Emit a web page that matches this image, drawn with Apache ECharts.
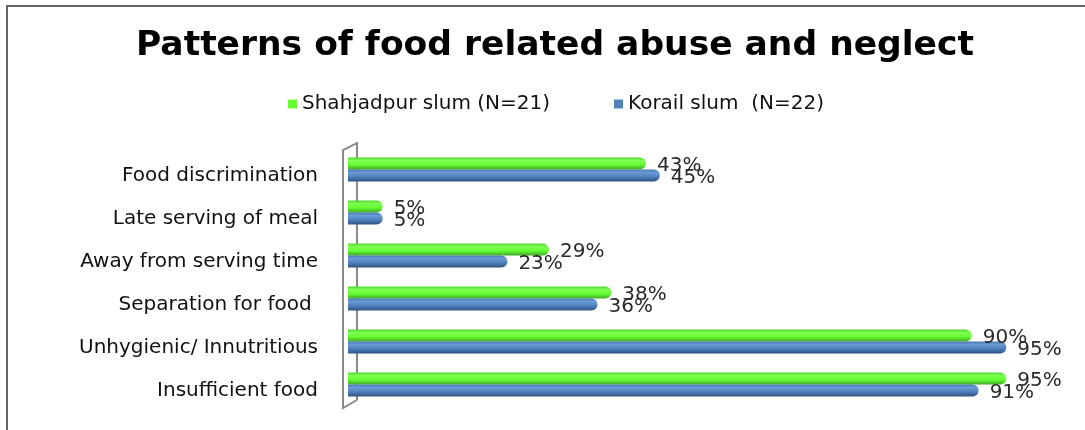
<!DOCTYPE html>
<html>
<head>
<meta charset="utf-8">
<script src="https://cdn.jsdelivr.net/npm/echarts@6/dist/echarts.min.js"></script>
<style>html,body{margin:0;padding:0;background:#fff;}#c{width:1085px;height:430px;}</style>
</head>
<body>
<div id="c"></div>
<script>
const categories = ['Food discrimination', 'Late serving of meal', 'Away from serving time', 'Separation for food ', 'Unhygienic/ Innutritious', 'Insufficient food'];
const shahjadpur = [43, 5, 29, 38, 90, 95];
const korail = [45, 5, 23, 36, 95, 91];
const seriesNames = ['Shahjadpur slum (N=21)', 'Korail slum  (N=22)'];

const chart = echarts.init(document.getElementById('c'));
const greenGrad = new echarts.graphic.LinearGradient(0, 0, 0, 1, [
  {offset: 0, color: '#4fd42a'}, {offset: 0.25, color: '#7dff52'}, {offset: 0.6, color: '#66ff33'}, {offset: 1, color: '#3fa822'}
]);
const blueGrad = new echarts.graphic.LinearGradient(0, 0, 0, 1, [
  {offset: 0, color: '#4a78b0'}, {offset: 0.25, color: '#6a9bd6'}, {offset: 0.6, color: '#4f81bd'}, {offset: 1, color: '#2f5283'}
]);
const labelStyle = {show: true, position: 'right', distance: 11, offset: [0, 2], formatter: '{c}%', fontFamily: 'DejaVu Sans', fontSize: 20, color: '#2a2a2a'};
chart.setOption({
  animation: false,
  title: {text: 'Patterns of food related abuse and neglect', left: 131, top: 24,
    textStyle: {fontFamily: 'DejaVu Sans', fontWeight: 'bold', fontSize: 34.5, color: '#000'}},
  legend: {left: 283, top: 89, itemWidth: 9, itemHeight: 9, itemGap: 64, icon: 'rect',
    textStyle: {fontFamily: 'DejaVu Sans', fontSize: 20, color: '#111', padding: [0, 0, 0, 0]},
    data: [{name: seriesNames[0], itemStyle: {color: '#66ff33'}}, {name: seriesNames[1], itemStyle: {color: '#4f81bd'}}]},
  grid: {left: 348, width: 693, top: 148, height: 258},
  xAxis: {type: 'value', min: 0, max: 100, show: false},
  yAxis: {type: 'category', data: categories, inverse: true,
    axisLine: {show: false}, axisTick: {show: false},
    axisLabel: {margin: 30, fontFamily: 'DejaVu Sans', fontSize: 20, color: '#111', verticalAlign: 'top', lineHeight: 12}},
  graphic: [
    {type: 'rect', shape: {x: 7, y: 6, width: 1200, height: 600}, style: {fill: 'none', stroke: '#666', lineWidth: 2}, z: 0},
    {type: 'polyline', shape: {points: [[357, 400], [343, 408], [343, 150], [357, 143], [357, 400]]},
      style: {fill: 'none', stroke: '#8a8a8a', lineWidth: 2}, z: 0}
  ],
  series: [
    {name: seriesNames[0], type: 'bar', data: shahjadpur, barWidth: 12, barGap: '0%',
      itemStyle: {color: greenGrad, borderRadius: [0, 6, 6, 0]}, label: labelStyle},
    {name: seriesNames[1], type: 'bar', data: korail, barWidth: 12, barGap: '0%',
      itemStyle: {color: blueGrad, borderRadius: [0, 6, 6, 0]}, label: labelStyle}
  ]
});
</script>
</body>
</html>
